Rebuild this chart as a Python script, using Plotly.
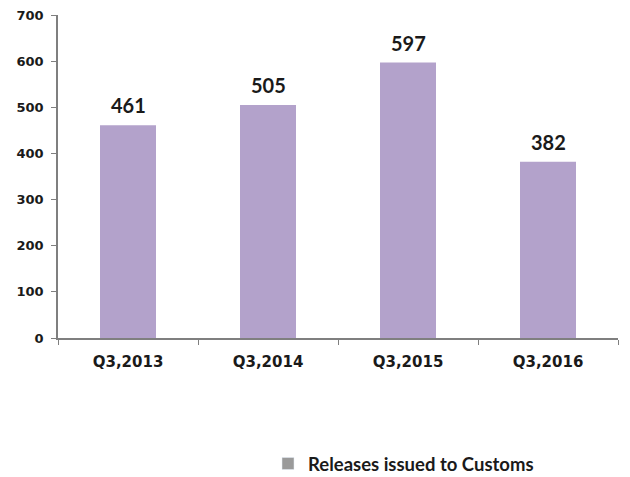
import plotly.graph_objects as go

# data
quarters = ["Q3,2013", "Q3,2014", "Q3,2015", "Q3,2016"]
releases = [461, 505, 597, 382]
series_name = "Releases issued to Customs"

bar_color = "#B3A2CB"
axis_color = "#7f7f7f"

fig = go.Figure()
fig.add_trace(go.Bar(x=quarters, y=releases, marker_color=bar_color,
                     marker_line_width=0, showlegend=False))
# legend swatch is grey in the original
fig.add_trace(go.Bar(x=[quarters[0]], y=[None], marker_color="#9a9a9a",
                     name="<b>" + series_name + "</b>", showlegend=True))

for q, v in zip(quarters, releases):
    fig.add_annotation(x=q, y=v, text="<b>{}</b>".format(v), showarrow=False,
                       yanchor="bottom", yshift=6,
                       font=dict(family="Lato", size=20, color="#1a1a1a"))

# page body adds ~8px, so the figure is a bit smaller than the window
fig.update_layout(
    width=622, height=469,
    margin=dict(l=50, r=12, t=7, b=139, autoexpand=False),
    paper_bgcolor="white", plot_bgcolor="white",
    barmode="overlay", bargap=0.6,
    legend=dict(x=0.375, y=-0.39, xanchor="left", yanchor="middle",
                font=dict(family="Lato", size=18.5, color="#1a1a1a"),
                itemwidth=30, bgcolor="rgba(0,0,0,0)"),
    font=dict(family="DejaVu Sans", color="#1a1a1a"),
)
fig.update_yaxes(range=[0, 700], dtick=100, showgrid=False, zeroline=False,
                 showline=True, linecolor=axis_color, linewidth=1.5,
                 ticks="outside", ticklen=5, tickcolor=axis_color, automargin=False,
                 ticklabelstandoff=5, ticklabeloverflow="allow",
                 tickfont=dict(size=13, family="DejaVu Sans"),
                 tickprefix="<b>", ticksuffix="</b>")
fig.update_xaxes(showgrid=False, showline=True, linecolor=axis_color, linewidth=1.5,
                 ticks="outside", ticklen=5, tickcolor=axis_color, automargin=False,
                 tickson="boundaries", ticklabelstandoff=9, ticklabeloverflow="allow",
                 tickfont=dict(size=15, family="DejaVu Sans"),
                 tickprefix="<b>", ticksuffix="</b>")

fig.write_html("out.html")
